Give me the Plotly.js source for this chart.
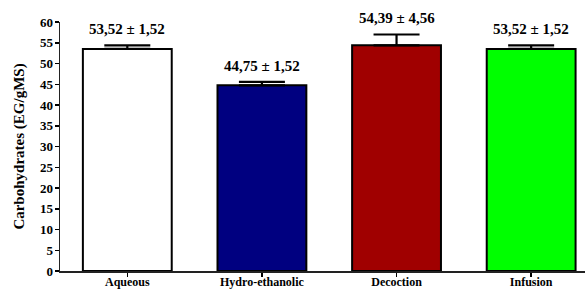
<!DOCTYPE html>
<html>
<head>
<meta charset="utf-8">
<script src="https://cdn.plot.ly/plotly-3.0.1.min.js"></script>
<style>html,body{margin:0;padding:0;background:#fff;}#chart{width:585px;height:289px;}</style>
</head>
<body>
<div id="chart"></div>
<script>
const categories = ["Aqueous", "Hydro-ethanolic", "Decoction", "Infusion"];
const values = [53.52, 44.75, 54.39, 53.52];
const errors = [0.87, 0.8, 2.6, 0.87];
const labels = ["53,52 ± 1,52", "44,75 ± 1,52", "54,39 ± 4,56", "53,52 ± 1,52"];
const colors = ["#ffffff", "#000080", "#a00000", "#00ff00"];
const yTicks = [0, 5, 10, 15, 20, 25, 30, 35, 40, 45, 50, 55, 60];

const FONT = "Liberation Serif, Times New Roman, serif";

const trace = {
  type: "bar",
  x: categories,
  y: values,
  width: 0.66,
  marker: {color: colors, line: {color: "#000", width: 2}},
  error_y: {type: "data", array: errors, visible: true, color: "#000", thickness: 2.2, width: 23, symmetric: false, arrayminus: errors.map(() => 0)},
  hoverinfo: "none"
};

const annotations = categories.map((c, i) => ({
  x: c, y: values[i] + errors[i], xref: "x", yref: "y",
  text: "<b>" + labels[i] + "</b>", showarrow: false,
  yanchor: "bottom", yshift: 6,
  font: {family: FONT, size: 15, color: "#000"}
}));

const layout = {
  width: 585, height: 289,
  margin: {l: 60, r: 0, t: 22, b: 18},
  paper_bgcolor: "#fff", plot_bgcolor: "#fff",
  showlegend: false,
  xaxis: {
    type: "category", range: [-0.5, 3.4],
    tickvals: categories, ticktext: categories.map(c => "<b>" + c + "</b>"),
    showline: true, linecolor: "#222", linewidth: 1.5,
    ticks: "outside", ticklen: 4, tickwidth: 1.5, tickcolor: "#000",
    ticklabelstandoff: -5,
    showgrid: false, zeroline: false,
    tickfont: {family: FONT, size: 12, color: "#000"}
  },
  yaxis: {
    range: [0, 60], tickvals: yTicks, ticktext: yTicks.map(v => "<b>" + v + "</b>"),
    showline: true, linecolor: "#222", linewidth: 1.5,
    ticks: "outside", ticklen: 4, tickwidth: 1.5, tickcolor: "#000",
    ticklabelstandoff: -1,
    showgrid: false, zeroline: false,
    tickfont: {family: FONT, size: 13, color: "#000"},
    title: {text: "<b>Carbohydrates (EG/gMS)</b>", font: {family: FONT, size: 15, color: "#000"}, standoff: 11}
  },
  annotations: annotations
};

Plotly.newPlot("chart", [trace], layout, {staticPlot: true, displayModeBar: false});
</script>
</body>
</html>
